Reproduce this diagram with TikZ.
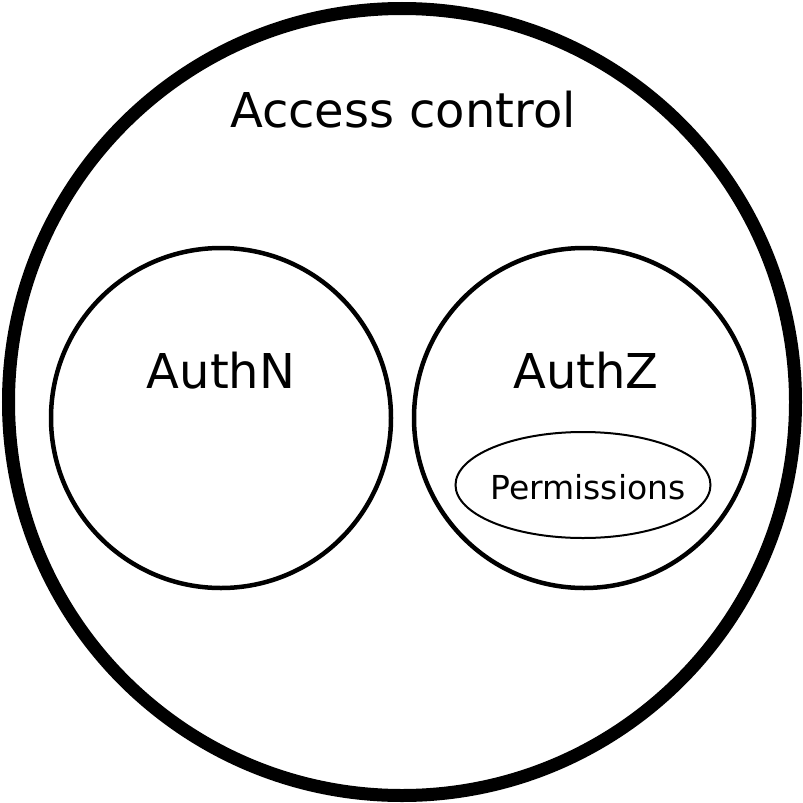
\documentclass[tikz,border=0pt]{standalone}
\usepackage{fontspec}
\setmainfont{DejaVu Sans}
\usetikzlibrary{shapes.geometric}
\begin{document}
\begin{tikzpicture}[x=1pt,y=-1pt,
  outerc/.style={circle,draw,line width=13pt,minimum size=787pt,inner sep=0pt},
  innerc/.style={circle,draw,line width=4.5pt,minimum size=340pt,inner sep=0pt},
  perm/.style={ellipse,draw,line width=2pt,minimum width=255pt,minimum height=106pt,inner sep=0pt},
  lbl/.style={font=\fontsize{48}{56}\selectfont,anchor=base,inner sep=0pt},
  slbl/.style={font=\fontsize{33}{38}\selectfont,anchor=base,inner sep=0pt}]
\useasboundingbox (0,0) rectangle (803,803);
\node[outerc] (outer) at (402,402) {};
\node[innerc] (authn) at (221,418) {};
\node[innerc] (authz) at (584,418) {};
\node[perm] (permissions) at (583,485) {};
\node[lbl] (ac) at (403,127) {Access control};
\node[lbl] (tn) at (221,388) {AuthN};
\node[lbl] (tz) at (586,388) {AuthZ};
\node[slbl] (tp) at (588,499) {Permissions};
\end{tikzpicture}
\end{document}
